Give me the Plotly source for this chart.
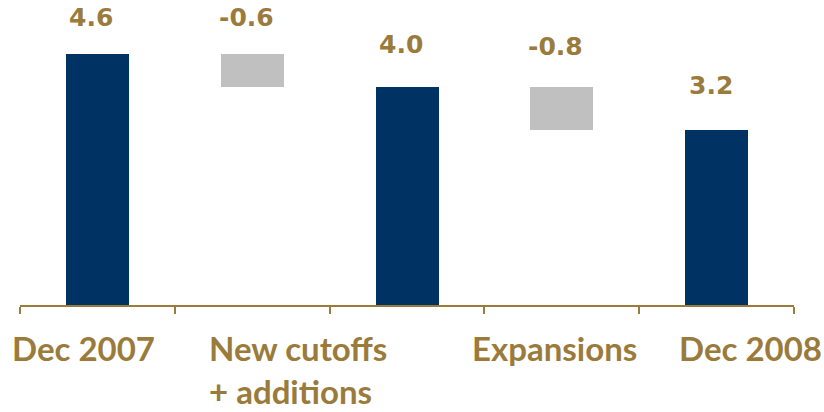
import plotly.graph_objects as go

# Waterfall steps: opening total, change, subtotal, change, closing total
categories = ["Dec 2007", "New cutoffs<br>+ additions", "", "Expansions", "Dec 2008"]
values = [4.6, -0.6, 4.0, -0.8, 3.2]
measures = ["total", "relative", "total", "relative", "total"]
value_labels = ["4.6", "-0.6", "4.0", "-0.8", "3.2"]

NAVY = "#003263"
GREY = "#c0c0c0"
GOLD = "#9a7b3b"

# Build floating bars: totals start at zero, changes hang from the running level
bases, heights, colors = [], [], []
running = 0.0
for v, m in zip(values, measures):
    if m == "total":
        bases.append(0.0)
        heights.append(v)
        colors.append(NAVY)
        running = v
    else:
        new = running + v
        bases.append(min(running, new))
        heights.append(abs(v))
        colors.append(GREY)
        running = new

xs = list(range(len(categories)))

fig = go.Figure(
    go.Bar(
        x=xs,
        y=heights,
        base=bases,
        marker=dict(color=colors, line=dict(width=0)),
        width=0.407,
        hoverinfo="skip",
    )
)

# Value labels above each bar
label_gap = [20, 20, 26, 24, 28]
for i, (b, h, txt) in enumerate(zip(bases, heights, value_labels)):
    fig.add_annotation(
        x=i, y=b + h, xref="x", yref="y",
        text=txt, showarrow=False,
        xanchor="center", yanchor="bottom",
        xshift=-6, yshift=label_gap[i],
        font=dict(family="DejaVu Sans", size=25, color=GOLD, weight="bold"),
    )

# Category labels under the axis
cat_shift = [-14, 46, 0, -7, 34]
for i, name in enumerate(categories):
    if not name:
        continue
    fig.add_annotation(
        x=i, y=0, xref="x", yref="paper",
        text=name, showarrow=False,
        xanchor="center", yanchor="top", align="left",
        xshift=cat_shift[i], yshift=-21,
        font=dict(family="Lato", size=33, color=GOLD, weight="bold"),
    )

fig.update_layout(
    width=824, height=412,
    margin=dict(l=20, r=30, t=0, b=107),
    paper_bgcolor="white", plot_bgcolor="white",
    showlegend=False,
    bargap=0,
)
fig.update_xaxes(
    range=[-0.5, len(categories) - 0.5],
    tickvals=[i - 0.5 for i in range(len(categories) + 1)],
    showticklabels=False,
    ticks="outside", ticklen=7, tickwidth=2, tickcolor=GOLD,
    showline=True, linecolor=GOLD, linewidth=2,
    showgrid=False, zeroline=False,
)
fig.update_yaxes(
    range=[0, 5.586],
    visible=False,
)

fig.write_html("out.html")
